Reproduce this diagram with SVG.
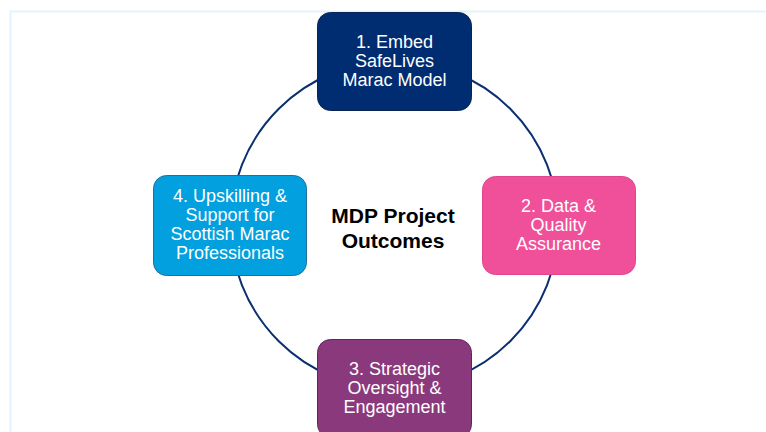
<svg xmlns="http://www.w3.org/2000/svg" width="766" height="432" viewBox="0 0 766 432">
  <style>
    .node-text { font-family: "Liberation Sans", Arial, sans-serif; font-size: 18px; fill: #ffffff; text-anchor: middle; }
    .title { font-family: "Liberation Sans", Arial, sans-serif; font-size: 21px; font-weight: bold; fill: #000000; text-anchor: middle; }
    .ring { fill: none; stroke: #0b2f70; stroke-width: 2; }
    .box { stroke-width: 1; }
  </style>
  <rect width="766" height="432" fill="#ffffff"/>
  <!-- page frame -->
  <path d="M10.5 432 V11.5 H766" fill="none" stroke="#e6f3fc" stroke-width="2"/>

  <g id="connectors">
    <circle class="ring" cx="394.5" cy="225" r="164"/>
  </g>

  <g id="center-title">
    <text class="title" x="393" y="223">MDP Project</text>
    <text class="title" x="393" y="248">Outcomes</text>
  </g>

  <g id="node-1">
    <rect class="box" x="317.5" y="12.5" width="154" height="98" rx="13" fill="#002d72" stroke="#0a2456"/>
    <text class="node-text" x="394.5" y="48">1. Embed</text>
    <text class="node-text" x="394.5" y="67">SafeLives</text>
    <text class="node-text" x="394.5" y="86">Marac Model</text>
  </g>

  <g id="node-2">
    <rect class="box" x="482.5" y="176.5" width="153" height="98" rx="13" fill="#f0509a" stroke="#e0468c"/>
    <text class="node-text" x="558.5" y="212">2. Data &amp;</text>
    <text class="node-text" x="558.5" y="231">Quality</text>
    <text class="node-text" x="558.5" y="250">Assurance</text>
  </g>

  <g id="node-3">
    <rect class="box" x="317.5" y="339.5" width="154" height="98" rx="13" fill="#8a3a7c" stroke="#5e2656"/>
    <text class="node-text" x="394.5" y="375">3. Strategic</text>
    <text class="node-text" x="394.5" y="394">Oversight &amp;</text>
    <text class="node-text" x="394.5" y="413">Engagement</text>
  </g>

  <g id="node-4">
    <rect class="box" x="153.5" y="175.5" width="153" height="100" rx="13" fill="#02a0de" stroke="#1d6f9c"/>
    <text class="node-text" x="230" y="202">4. Upskilling &amp;</text>
    <text class="node-text" x="230" y="221">Support for</text>
    <text class="node-text" x="230" y="240">Scottish Marac</text>
    <text class="node-text" x="230" y="259">Professionals</text>
  </g>
</svg>
